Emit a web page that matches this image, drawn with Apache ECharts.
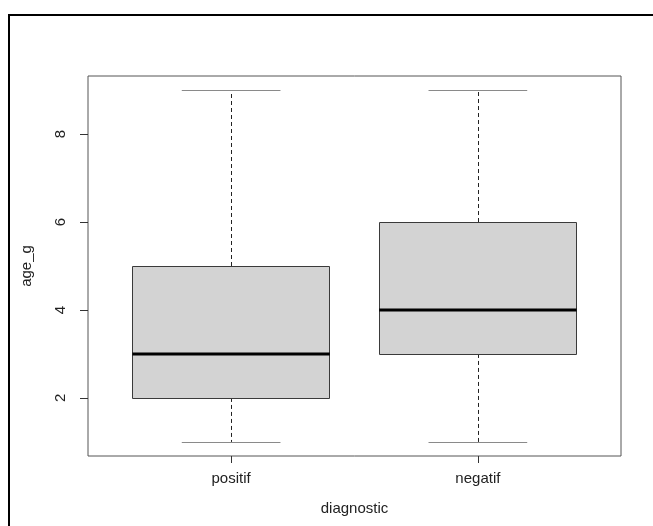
<!DOCTYPE html>
<html>
<head>
<meta charset="utf-8">
<script src="https://cdn.jsdelivr.net/npm/echarts@6/dist/echarts.min.js"></script>
<style>
  html, body { margin: 0; padding: 0; background: #fff; }
  #chart { width: 653px; height: 526px; }
</style>
</head>
<body>
<div id="chart"></div>
<script>
// Groups and their five-number summaries for age_g
const categories = ['positif', 'negatif'];
const whiskerLow = [1, 1];
const quartile1 = [2, 3];
const medians = [3, 4];
const quartile3 = [5, 6];
const whiskerHigh = [9, 9];
const yTicks = [2, 4, 6, 8];

const boxData = categories.map((c, i) => [
  i + 1, whiskerLow[i], quartile1[i], medians[i], quartile3[i], whiskerHigh[i]
]);

const FONT = 'Liberation Sans, Arial, sans-serif';
const FS = 15;
const chart = echarts.init(document.getElementById('chart'), null, { renderer: 'canvas' });

function renderBox(params, api) {
  const x = api.value(0);
  const lo = api.value(1), q1 = api.value(2), md = api.value(3), q3 = api.value(4), hi = api.value(5);
  const halfBox = 0.4, halfCap = 0.2;
  const pL = api.coord([x - halfBox, q3]);
  const pR = api.coord([x + halfBox, q1]);
  const cap = (v) => {
    const a = api.coord([x - halfCap, v]), b = api.coord([x + halfCap, v]);
    return { type: 'line', shape: { x1: a[0], y1: Math.round(a[1]) + 0.5, x2: b[0], y2: Math.round(b[1]) + 0.5 },
             style: { stroke: '#8a8a8a', lineWidth: 1 } };
  };
  const whisk = (v1, v2) => {
    const a = api.coord([x, v1]), b = api.coord([x, v2]);
    const xx = Math.round(a[0]) + 0.5;
    return { type: 'line', shape: { x1: xx, y1: a[1], x2: xx, y2: b[1] },
             style: { stroke: '#222', lineWidth: 1, lineDash: [4, 3] } };
  };
  const m1 = api.coord([x - halfBox, md]), m2 = api.coord([x + halfBox, md]);
  return {
    type: 'group',
    children: [
      whisk(q3, hi),
      whisk(q1, lo),
      cap(hi),
      cap(lo),
      { type: 'rect',
        shape: { x: Math.round(pL[0]) + 0.5, y: Math.round(pL[1]) + 0.5,
                 width: Math.round(pR[0] - pL[0]), height: Math.round(pR[1] - pL[1]) },
        style: { fill: '#d3d3d3', stroke: '#3a3a3a', lineWidth: 1 } },
      { type: 'line', shape: { x1: m1[0], y1: Math.round(m1[1]), x2: m2[0], y2: Math.round(m2[1]) },
        style: { stroke: '#000', lineWidth: 3 } }
    ]
  };
}

chart.setOption({
  animation: false,
  backgroundColor: '#fff',
  graphic: [
    { type: 'line', shape: { x1: 8, y1: 15, x2: 653, y2: 15 }, style: { stroke: '#000', lineWidth: 2 } },
    { type: 'line', shape: { x1: 9, y1: 14, x2: 9, y2: 526 }, style: { stroke: '#000', lineWidth: 2 } }
  ],
  grid: {
    left: 88, top: 76, width: 533, height: 380,
    show: true, borderColor: '#555', borderWidth: 1, backgroundColor: 'transparent'
  },
  xAxis: {
    type: 'value', min: 0.42, max: 2.58,
    splitLine: { show: false },
    axisLine: { show: false },
    axisTick: { show: true, customValues: [1, 2], length: 7, lineStyle: { color: '#333' } },
    axisLabel: {
      customValues: [1, 2], margin: 15,
      formatter: (v) => categories[Math.round(v) - 1] || '',
      color: '#222', fontFamily: FONT, fontSize: FS
    },
    name: 'diagnostic', nameLocation: 'middle', nameGap: 45,
    nameTextStyle: { color: '#222', fontFamily: FONT, fontSize: FS }
  },
  yAxis: {
    type: 'value', min: 0.68, max: 9.32,
    splitLine: { show: false },
    axisLine: { show: false },
    axisTick: { show: true, customValues: yTicks, length: 8, lineStyle: { color: '#333' } },
    axisLabel: {
      customValues: yTicks, rotate: 90, margin: 20,
      color: '#222', fontFamily: FONT, fontSize: FS
    },
    name: 'age_g', nameLocation: 'middle', nameGap: 54,
    nameTextStyle: { color: '#222', fontFamily: FONT, fontSize: FS }
  },
  series: [{
    type: 'custom',
    renderItem: renderBox,
    encode: { x: 0, y: [1, 2, 3, 4, 5] },
    data: boxData
  }]
});
</script>
</body>
</html>
